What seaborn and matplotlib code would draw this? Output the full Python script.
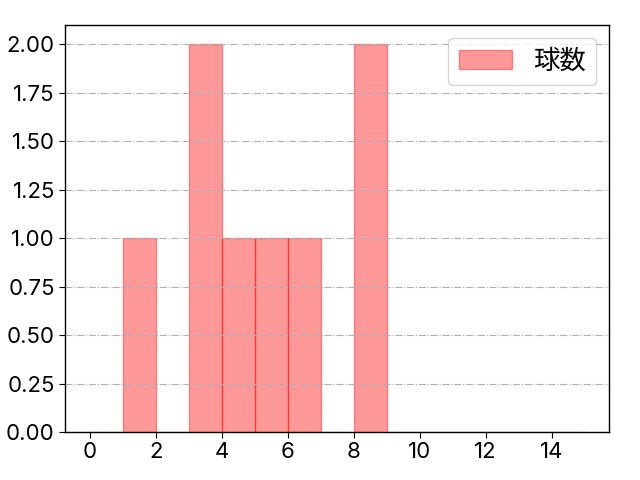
import numpy as np
import pandas as pd
import matplotlib
matplotlib.use("Agg")
import matplotlib.pyplot as plt
from matplotlib.ticker import MultipleLocator, FormatStrFormatter
import seaborn as sns

# pitch values per plate appearance
pitch_counts = [1, 3, 3, 4, 5, 6, 8, 8]
bin_edges = list(range(0, 16))
legend_label = "球数"

sns.set_style("white")
plt.rcParams['font.family'] = ['Inter', 'Noto Sans CJK JP', 'DejaVu Sans']
plt.rcParams['text.color'] = 'black'

df = pd.DataFrame({"pitches": pitch_counts})

fig, ax = plt.subplots(figsize=(6.4, 4.8), dpi=100)
sns.histplot(data=df, x="pitches", bins=bin_edges, color="red", alpha=0.4,
             edgecolor=(1, 0, 0, 0.4), linewidth=1, label=legend_label, ax=ax)

ax.set_xlabel("")
ax.set_ylabel("")
ax.xaxis.set_major_locator(MultipleLocator(2))
ax.yaxis.set_major_formatter(FormatStrFormatter('%.2f'))
ax.grid(axis='y', linestyle='-.', color='#b0b0b0', linewidth=0.8)
ax.set_axisbelow(False)
for s in ax.spines.values():
    s.set_color('black')
    s.set_linewidth(1)
ax.tick_params(axis='both', labelsize=16, length=4, bottom=True, left=True,
               color='black', labelcolor='black')
leg = ax.legend(loc='upper right', fontsize=19, handlelength=2.0)
for t in leg.get_texts():
    t.set_color('black')

fig.subplots_adjust(left=0.102, right=0.952, top=0.948, bottom=0.1)
plt.savefig("out.png")
